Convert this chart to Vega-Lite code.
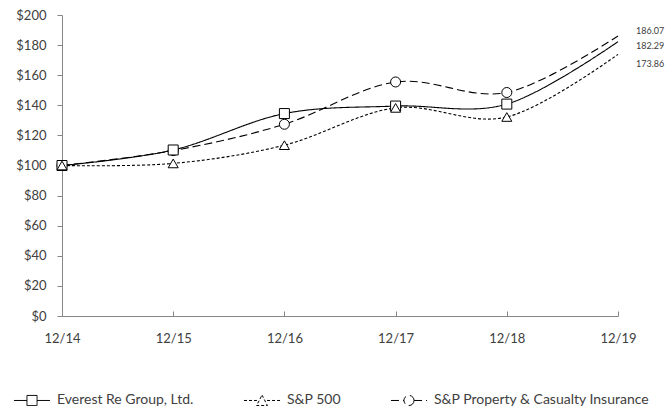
{
  "$schema": "https://vega.github.io/schema/vega-lite/v6.json",
  "autosize": "none",
  "width": 556,
  "height": 301,
  "padding": {"left": 62, "top": 15, "right": 51, "bottom": 100},
  "background": "white",
  "config": {
    "view": {"stroke": null},
    "font": "Lato",
    "axis": {"labelFont": "Lato", "labelFontSize": 13, "labelColor": "#404040", "domainColor": "#868686", "tickColor": "#868686", "grid": false, "title": null}
  },
  "data": {
    "values": [
      {"series": "Everest Re Group, Ltd.", "date": "12/14", "value": 100},
      {"series": "Everest Re Group, Ltd.", "date": "12/15", "value": 110.3},
      {"series": "Everest Re Group, Ltd.", "date": "12/16", "value": 134.5},
      {"series": "Everest Re Group, Ltd.", "date": "12/17", "value": 139.5},
      {"series": "Everest Re Group, Ltd.", "date": "12/18", "value": 140.8},
      {"series": "Everest Re Group, Ltd.", "date": "12/19", "value": 182.29},
      {"series": "S&P 500", "date": "12/14", "value": 100},
      {"series": "S&P 500", "date": "12/15", "value": 101.38},
      {"series": "S&P 500", "date": "12/16", "value": 113.51},
      {"series": "S&P 500", "date": "12/17", "value": 138.29},
      {"series": "S&P 500", "date": "12/18", "value": 132.23},
      {"series": "S&P 500", "date": "12/19", "value": 173.86},
      {"series": "S&P Property & Casualty Insurance", "date": "12/14", "value": 100},
      {"series": "S&P Property & Casualty Insurance", "date": "12/15", "value": 109.9},
      {"series": "S&P Property & Casualty Insurance", "date": "12/16", "value": 127.4},
      {"series": "S&P Property & Casualty Insurance", "date": "12/17", "value": 155.5},
      {"series": "S&P Property & Casualty Insurance", "date": "12/18", "value": 148.5},
      {"series": "S&P Property & Casualty Insurance", "date": "12/19", "value": 186.07}
    ]
  },
  "encoding": {
    "x": {"field": "date", "type": "ordinal", "scale": {"type": "point", "padding": 0}, "axis": {"labelAngle": 0, "tickSize": -5, "labelPadding": 21}},
    "y": {"field": "value", "type": "quantitative", "scale": {"domain": [0, 200]}, "axis": {"values": [0, 20, 40, 60, 80, 100, 120, 140, 160, 180, 200], "format": "$d", "tickSize": 5, "labelPadding": 11}}
  },
  "layer": [
    {
      "mark": {"type": "line", "interpolate": "cardinal", "tension": 0, "color": "black", "strokeWidth": 1.1},
      "encoding": {
        "strokeDash": {
          "field": "series", "type": "nominal",
          "scale": {"domain": ["Everest Re Group, Ltd.", "S&P 500", "S&P Property & Casualty Insurance"], "range": [[1, 0], [3, 2], [8, 4]]},
          "legend": {
            "orient": "none", "legendX": -49, "legendY": 366, "direction": "horizontal", "title": null,
            "columnPadding": 47, "labelOffset": 6, "labelFont": "Lato", "labelFontSize": 14, "labelColor": "#404040", "labelLimit": 300,
            "symbolSize": 1300, "symbolStrokeColor": "black", "symbolFillColor": "white", "symbolStrokeWidth": 1,
            "encode": {"symbols": {"update": {
              "shape": {"signal": "datum.value === 'Everest Re Group, Ltd.' ? 'M-1,0H-0.28M0.28,0H1M-0.28,-0.28H0.28V0.28H-0.28Z' : datum.value === 'S&P 500' ? 'M-1,0H-0.28M0.28,0H1M0,-0.3L0.3,0.28H-0.3Z' : 'M-1,0H-0.28M0.28,0H1M0.28,0A0.28,0.28 0 1,1 -0.28,0A0.28,0.28 0 1,1 0.28,0Z'"}
            }}}
          }
        }
      }
    },
    {
      "transform": [{"filter": "datum.date !== '12/19' && datum.series === 'S&P Property & Casualty Insurance'"}],
      "mark": {"type": "point", "shape": "circle", "filled": true, "fill": "white", "stroke": "black", "strokeWidth": 1, "size": 100, "opacity": 1}
    },
    {
      "transform": [{"filter": "datum.date !== '12/19' && datum.series === 'Everest Re Group, Ltd.'"}],
      "mark": {"type": "point", "shape": "square", "filled": true, "fill": "white", "stroke": "black", "strokeWidth": 1, "size": 100, "opacity": 1}
    },
    {
      "transform": [{"filter": "datum.date !== '12/19' && datum.series === 'S&P 500'"}],
      "mark": {"type": "point", "shape": "triangle-up", "filled": true, "fill": "white", "stroke": "black", "strokeWidth": 1, "size": 100, "opacity": 1}
    },
    {
      "transform": [{"filter": "datum.date === '12/19' && datum.series === 'S&P Property & Casualty Insurance'"}],
      "mark": {"type": "text", "align": "left", "dx": 18, "dy": -5, "fontSize": 9, "font": "Lato", "color": "#404040"},
      "encoding": {"text": {"field": "value", "type": "quantitative", "format": ".2f"}}
    },
    {
      "transform": [{"filter": "datum.date === '12/19' && datum.series === 'Everest Re Group, Ltd.'"}],
      "mark": {"type": "text", "align": "left", "dx": 18, "dy": 4, "fontSize": 9, "font": "Lato", "color": "#404040"},
      "encoding": {"text": {"field": "value", "type": "quantitative", "format": ".2f"}}
    },
    {
      "transform": [{"filter": "datum.date === '12/19' && datum.series === 'S&P 500'"}],
      "mark": {"type": "text", "align": "left", "dx": 18, "dy": 10, "fontSize": 9, "font": "Lato", "color": "#404040"},
      "encoding": {"text": {"field": "value", "type": "quantitative", "format": ".2f"}}
    }
  ]
}
